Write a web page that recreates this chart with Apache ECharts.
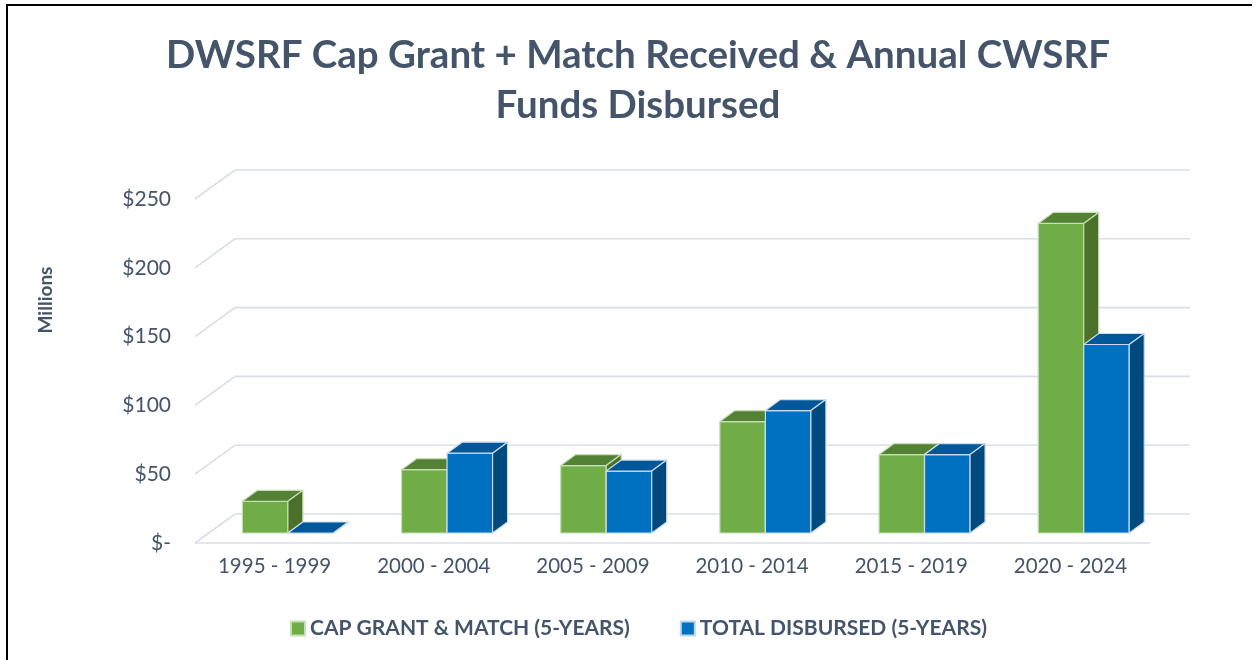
<!DOCTYPE html>
<html>
<head>
<meta charset="utf-8">
<script src="https://cdn.jsdelivr.net/npm/echarts@6/dist/echarts.min.js"></script>
<style>
  html, body { margin: 0; padding: 0; background: #fff; }
  #chart { width: 1256px; height: 660px; }
</style>
</head>
<body>
<div id="chart"></div>
<script>
// data (millions of dollars)
var periods = ['1995 - 1999', '2000 - 2004', '2005 - 2009', '2010 - 2014', '2015 - 2019', '2020 - 2024'];
var capGrant = [23, 46, 49, 81, 57, 225];
var disbursed = [0, 58, 45, 89, 57, 137];
var yTicks = [0, 50, 100, 150, 200, 250];

var textColor = '#44546A';
var fontFam = 'Lato, "Open Sans", sans-serif';

// 3d look: floor depth and bar depth, in px
var WALL_DX = 40, WALL_DY = -29;
var BAR_SHIFT_X = 13.3, BAR_SHIFT_Y = -10;
var SIDE_DX = 15, SIDE_DY = -11;

function barRenderer(side, front, topC, sideC, edge) {
  return function (params, api) {
    var idx = api.value(0);
    var val = api.value(1);
    var base = api.coord([idx, 0]);
    var top = api.coord([idx, val]);
    var band = api.size([1, 0])[0];
    var w = band * 0.286;
    var cx = base[0] + BAR_SHIFT_X;
    var x0 = side < 0 ? cx - w : cx;
    var x1 = x0 + w;
    var yb = base[1] + BAR_SHIFT_Y;
    var yt = top[1] + BAR_SHIFT_Y;
    var st = { stroke: edge, lineWidth: 1.2, lineJoin: 'round' };
    return {
      type: 'group',
      children: [
        { type: 'rect', shape: { x: x0, y: yt, width: w, height: yb - yt },
          style: Object.assign({ fill: front }, st) },
        { type: 'polygon', shape: { points: [[x0, yt], [x0 + SIDE_DX, yt + SIDE_DY], [x1 + SIDE_DX, yt + SIDE_DY], [x1, yt]] },
          style: Object.assign({ fill: topC }, st) },
        { type: 'polygon', shape: { points: [[x1, yt], [x1 + SIDE_DX, yt + SIDE_DY], [x1 + SIDE_DX, yb + SIDE_DY], [x1, yb]] },
          style: Object.assign({ fill: sideC }, st) }
      ]
    };
  };
}

function gridRenderer(params, api) {
  var v = api.value(1);
  var band = api.size([1, 0])[0];
  var p = api.coord([0, v]);
  var left = p[0] - band / 2;
  var right = api.coord([periods.length - 1, v])[0] + band / 2;
  var y = p[1];
  var st = { stroke: '#D9DEE7', lineWidth: 1.6, fill: null };
  var kids = [
    { type: 'polyline', shape: { points: [[left, y], [left + WALL_DX, y + WALL_DY], [right + WALL_DX, y + WALL_DY]] }, style: st }
  ];
  if (v === 0) {
    kids.push({ type: 'line', shape: { x1: left, y1: y, x2: right, y2: y }, style: st });
  }
  return { type: 'group', children: kids };
}

var chart = echarts.init(document.getElementById('chart'));
chart.setOption({
  backgroundColor: '#fff',
  animation: false,
  title: {
    text: 'DWSRF Cap Grant + Match Received & Annual CWSRF\nFunds Disbursed',
    left: 633,
    top: 26,
    textAlign: 'center',
    textStyle: { color: textColor, fontFamily: fontFam, fontWeight: 'bold', fontSize: 38.5, lineHeight: 50 }
  },
  legend: {
    data: ['CAP GRANT & MATCH (5-YEARS)', 'TOTAL DISBURSED (5-YEARS)'],
    left: 285,
    top: 613,
    icon: 'rect',
    itemWidth: 14,
    itemHeight: 14,
    itemGap: 50,
    textStyle: { color: textColor, fontFamily: fontFam, fontWeight: 'bold', fontSize: 21 }
  },
  grid: { left: 195, right: 106, top: 199, bottom: 117 },
  xAxis: {
    type: 'category',
    data: periods,
    axisLine: { show: false },
    axisTick: { show: false },
    axisLabel: { color: textColor, fontFamily: fontFam, fontSize: 20.5, margin: 13 }
  },
  yAxis: {
    type: 'value',
    min: 0,
    max: 250,
    interval: 50,
    axisLine: { show: false },
    axisTick: { show: false },
    splitLine: { show: false },
    axisLabel: {
      color: textColor, fontFamily: fontFam, fontSize: 21, margin: 24,
      formatter: function (v) { return v === 0 ? '$-' : '$' + v; }
    }
  },
  graphic: [
    { type: 'line', shape: { x1: 7, y1: 5, x2: 7, y2: 660 }, style: { stroke: '#000', lineWidth: 2 } },
    { type: 'line', shape: { x1: 6, y1: 5, x2: 1252, y2: 5 }, style: { stroke: '#000', lineWidth: 2 } },
    { type: 'text', x: 46, y: 300, rotation: Math.PI / 2,
      style: { text: 'Millions', fill: textColor, font: 'bold 19px ' + fontFam, align: 'center', verticalAlign: 'middle' } }
  ],
  series: [
    {
      name: 'walls',
      type: 'custom',
      silent: true,
      z: 1,
      renderItem: gridRenderer,
      data: yTicks.map(function (v) { return [0, v]; })
    },
    {
      name: 'CAP GRANT & MATCH (5-YEARS)',
      type: 'custom',
      z: 2,
      itemStyle: { color: '#70AD47', borderColor: '#C5E0B4', borderWidth: 1.5 },
      renderItem: barRenderer(-1, '#70AD47', '#548235', '#4A7029', '#C5E0B4'),
      data: capGrant.map(function (v, i) { return [i, v]; })
    },
    {
      name: 'TOTAL DISBURSED (5-YEARS)',
      type: 'custom',
      z: 3,
      itemStyle: { color: '#0070C0', borderColor: '#BDD7EE', borderWidth: 1.5 },
      renderItem: barRenderer(1, '#0070C0', '#00589B', '#00497D', '#C9DAF0'),
      data: disbursed.map(function (v, i) { return [i, v]; })
    }
  ]
});
</script>
</body>
</html>
